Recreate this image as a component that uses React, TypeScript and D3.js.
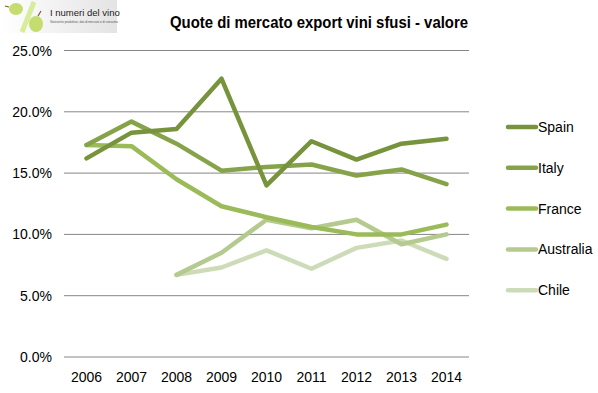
import * as d3 from "d3";
import React from "react";
import { useRef, useEffect } from "react";

// years on the x axis
const years = ["2006", "2007", "2008", "2009", "2010", "2011", "2012", "2013", "2014"];

// market share (%); null = no data
const spain = [16.2, 18.3, 18.6, 22.7, 14.0, 17.6, 16.1, 17.4, 17.8];
const italy = [17.3, 19.2, 17.4, 15.2, 15.5, 15.7, 14.8, 15.3, 14.1];
const france = [17.3, 17.2, 14.5, 12.3, 11.4, 10.6, 10.0, 10.0, 10.8];
const australia = [null, null, 6.7, 8.5, 11.2, 10.5, 11.2, 9.2, 10.0];
const chile = [null, null, 6.7, 7.3, 8.7, 7.2, 8.9, 9.5, 8.0];

const seriesNames = ["Spain", "Italy", "France", "Australia", "Chile"];
const seriesColors = ["#77933c", "#87a34a", "#9bbb59", "#b4ca8e", "#cedbb9"];
const yTicks = [0, 5, 10, 15, 20, 25];

const title = "Quote di mercato export vini sfusi - valore";

const App = () => {
  const ref = useRef<SVGSVGElement>(null);

  useEffect(() => {
    const width = 598;
    const height = 393;
    const margin = { left: 64, right: 129, top: 50.5, bottom: 36 };
    const drawWidth = width - margin.left - margin.right;
    const drawHeight = height - margin.top - margin.bottom;

    const svg = d3.select(ref.current);
    svg.selectAll("*").remove();
    svg.attr("width", width).attr("height", height);

    const font = "'Liberation Sans', Arial, sans-serif";

    // logo block top-left
    const defs = svg.append("defs");
    const grad = defs.append("linearGradient").attr("id", "logoBg").attr("x1", 0).attr("x2", 1);
    grad.append("stop").attr("offset", "0%").attr("stop-color", "#ffffff");
    grad.append("stop").attr("offset", "100%").attr("stop-color", "#e4e4e4");
    const logo = svg.append("g");
    logo.append("rect").attr("x", 0).attr("y", 0).attr("width", 117).attr("height", 33).attr("fill", "url(#logoBg)");
    logo.append("line").attr("x1", 22).attr("y1", 32).attr("x2", 34).attr("y2", 2)
      .attr("stroke", "#d8ec9a").attr("stroke-width", 5);
    logo.append("ellipse").attr("cx", 16).attr("cy", 9).attr("rx", 7).attr("ry", 6).attr("fill", "#c5dc6e");
    logo.append("ellipse").attr("cx", 36).attr("cy", 24).attr("rx", 7).attr("ry", 8).attr("fill", "#c5dc6e");
    logo.append("path").attr("d", "M9,7 L5,6 M38,16 L41,11").attr("stroke", "#7a5a2a").attr("stroke-width", 1.2);
    logo.append("text").attr("x", 50).attr("y", 16).attr("font-family", font).attr("font-size", 9.5)
      .attr("fill", "#222").text("I numeri del vino");
    logo.append("text").attr("x", 50).attr("y", 23).attr("font-family", font).attr("font-size", 3)
      .attr("fill", "#555").text("Statistiche produttive, dati di mercato e di consumo");

    // title (condensed like the original)
    svg.append("text")
      .attr("x", 170).attr("y", 28)
      .attr("textLength", 298)
      .attr("lengthAdjust", "spacingAndGlyphs")
      .attr("font-family", font).attr("font-weight", "bold").attr("font-size", 17)
      .text(title);

    const xScale = d3.scaleBand().domain(years).range([0, drawWidth]);
    const yScale = d3.scaleLinear().domain([0, 25]).range([drawHeight, 0]);

    const g = svg.append("g").attr("transform", `translate(${margin.left},${margin.top})`);

    // gridlines
    g.selectAll("line.grid").data(yTicks).enter().append("line")
      .attr("class", "grid")
      .attr("x1", 0).attr("x2", drawWidth)
      .attr("y1", (d) => yScale(d)).attr("y2", (d) => yScale(d))
      .attr("stroke", "#868686").attr("stroke-width", 1);

    // y labels
    g.selectAll("text.ylab").data(yTicks).enter().append("text")
      .attr("class", "ylab")
      .attr("x", -12).attr("y", (d) => yScale(d) + 5)
      .attr("text-anchor", "end")
      .attr("font-family", font).attr("font-size", 14)
      .text((d) => d.toFixed(1) + "%");

    // x labels
    g.selectAll("text.xlab").data(years).enter().append("text")
      .attr("class", "xlab")
      .attr("x", (d) => xScale(d)! + xScale.bandwidth() / 2)
      .attr("y", drawHeight + 25)
      .attr("text-anchor", "middle")
      .attr("font-family", font).attr("font-size", 14)
      .text((d) => d);

    const allSeries = [spain, italy, france, australia, chile];
    const line = d3.line<number | null>()
      .defined((d) => d !== null)
      .x((_, i) => xScale(years[i])! + xScale.bandwidth() / 2)
      .y((d) => yScale(d as number));

    // draw lighter series first so the darker ones sit on top
    allSeries.map((s, i) => ({ s, i })).reverse().forEach(({ s, i }) => {
      g.append("path")
        .attr("d", line(s))
        .attr("fill", "none")
        .attr("stroke", seriesColors[i])
        .attr("stroke-width", 4.5)
        .attr("stroke-linejoin", "round")
        .attr("stroke-linecap", "round");
    });

    // legend
    const legend = svg.append("g").attr("transform", "translate(508,127)");
    seriesNames.forEach((name, i) => {
      const row = legend.append("g").attr("transform", `translate(0,${i * 40.8})`);
      row.append("line").attr("x1", 0).attr("x2", 28).attr("y1", 0).attr("y2", 0)
        .attr("stroke", seriesColors[i]).attr("stroke-width", 4.5).attr("stroke-linecap", "round");
      row.append("text").attr("x", 30).attr("y", 5)
        .attr("font-family", font).attr("font-size", 14)
        .text(name);
    });
  }, []);

  return (
    <div style={{ position: "absolute", left: 0, top: 0 }}>
      <svg ref={ref} />
    </div>
  );
};

export default App;
